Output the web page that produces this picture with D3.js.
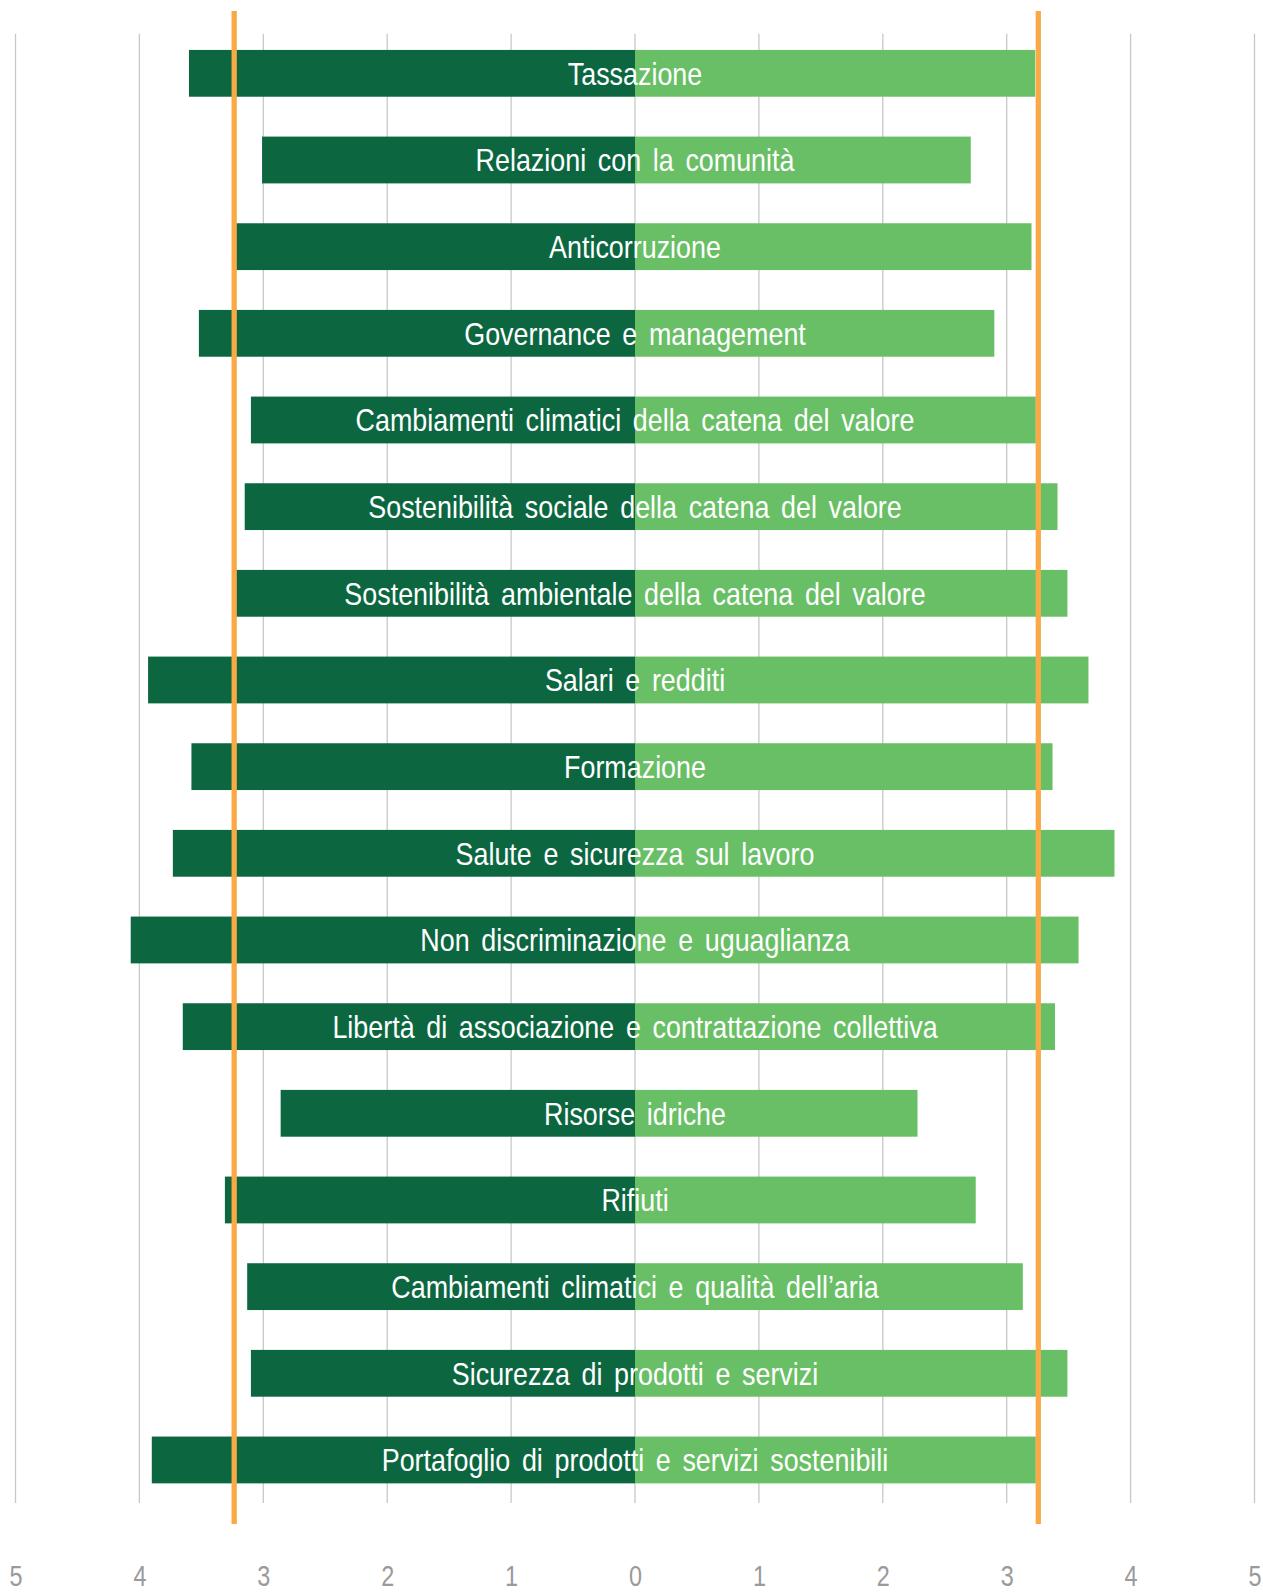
<!DOCTYPE html>
<html>
<head>
<meta charset="utf-8">
<script src="https://cdn.jsdelivr.net/npm/d3@7"></script>
<style>
  html, body { margin: 0; padding: 0; background: #ffffff; }
  svg { display: block; }
</style>
</head>
<body>
<svg id="chart" width="1263" height="1592"></svg>
<script>
// ---- data ----
const categories = [
  "Tassazione",
  "Relazioni con la comunità",
  "Anticorruzione",
  "Governance e management",
  "Cambiamenti climatici della catena del valore",
  "Sostenibilità sociale della catena del valore",
  "Sostenibilità ambientale della catena del valore",
  "Salari e redditi",
  "Formazione",
  "Salute e sicurezza sul lavoro",
  "Non discriminazione e uguaglianza",
  "Libertà di associazione e contrattazione collettiva",
  "Risorse idriche",
  "Rifiuti",
  "Cambiamenti climatici e qualità dell’aria",
  "Sicurezza di prodotti e servizi",
  "Portafoglio di prodotti e servizi sostenibili"
];
// left side (dark green), plotted to the left of zero
const leftValues = [3.60, 3.01, 3.23, 3.52, 3.10, 3.15, 3.22, 3.93, 3.58, 3.73, 4.07, 3.65, 2.86, 3.31, 3.13, 3.10, 3.90];
// right side (light green)
const rightValues = [3.23, 2.71, 3.20, 2.90, 3.235, 3.41, 3.49, 3.66, 3.37, 3.87, 3.58, 3.39, 2.28, 2.75, 3.13, 3.49, 3.235];
// threshold lines
const thresholdLeft = 3.235;
const thresholdRight = 3.255;
// axis ticks
const tickValues = [-5, -4, -3, -2, -1, 0, 1, 2, 3, 4, 5];
const tickLabels = ["5", "4", "3", "2", "1", "0", "1", "2", "3", "4", "5"];

// ---- chart ----
const svg = d3.select("#chart");
const colorDark = "#0c6741";
const colorLight = "#69bf65";
const colorOrange = "#f9a945";
const colorGrid = "#c8c8c8";
const fontFamily = "'Liberation Sans', Arial, sans-serif";
const squeeze = 0.84;

const x = d3.scaleLinear().domain([-5, 5]).range([15.5, 1254.5]);
const y = d3.scaleBand().domain(categories).range([30, 1503.3]).paddingInner(0.46).paddingOuter(0.23);

const rows = categories.map((c, i) => ({ cat: c, left: leftValues[i], right: rightValues[i] }));

// gridlines
svg.append("g").selectAll("line")
  .data(tickValues)
  .join("line")
  .attr("x1", d => x(d)).attr("x2", d => x(d))
  .attr("y1", 33.7).attr("y2", 1503)
  .attr("stroke", colorGrid)
  .attr("stroke-width", 1.3);

// left bars
svg.append("g").selectAll("rect")
  .data(rows)
  .join("rect")
  .attr("x", d => x(-d.left))
  .attr("width", d => x(0) - x(-d.left))
  .attr("y", d => y(d.cat))
  .attr("height", y.bandwidth())
  .attr("fill", colorDark);

// right bars
svg.append("g").selectAll("rect")
  .data(rows)
  .join("rect")
  .attr("x", x(0))
  .attr("width", d => x(d.right) - x(0))
  .attr("y", d => y(d.cat))
  .attr("height", y.bandwidth())
  .attr("fill", colorLight);

// threshold lines
svg.append("g").selectAll("line")
  .data([-thresholdLeft, thresholdRight])
  .join("line")
  .attr("x1", d => x(d)).attr("x2", d => x(d))
  .attr("y1", 11).attr("y2", 1524)
  .attr("stroke", colorOrange)
  .attr("stroke-width", 5.3);

// category labels (condensed look via horizontal squeeze)
svg.append("g").selectAll("text")
  .data(rows)
  .join("text")
  .attr("transform", d => `translate(${x(0)},${y(d.cat) + y.bandwidth() / 2 + 11.5}) scale(${squeeze},1)`)
  .attr("text-anchor", "middle")
  .attr("fill", "#ffffff")
  .style("font-family", fontFamily)
  .style("font-size", "32px")
  .style("word-spacing", "5px")
  .text(d => d.cat);

// bottom axis
const axis = d3.axisBottom(x)
  .tickValues(tickValues)
  .tickFormat((d, i) => tickLabels[i])
  .tickSize(0)
  .tickPadding(0);
const gAxis = svg.append("g")
  .attr("transform", "translate(0,1585.5)")
  .call(axis);
gAxis.select(".domain").remove();
gAxis.selectAll("text")
  .attr("y", 0)
  .attr("dy", 0)
  .attr("transform", "scale(0.78,1)")
  .attr("fill", "#9a9a9a")
  .style("font-family", fontFamily)
  .style("font-weight", "300")
  .style("font-size", "30px");
</script>
</body>
</html>
